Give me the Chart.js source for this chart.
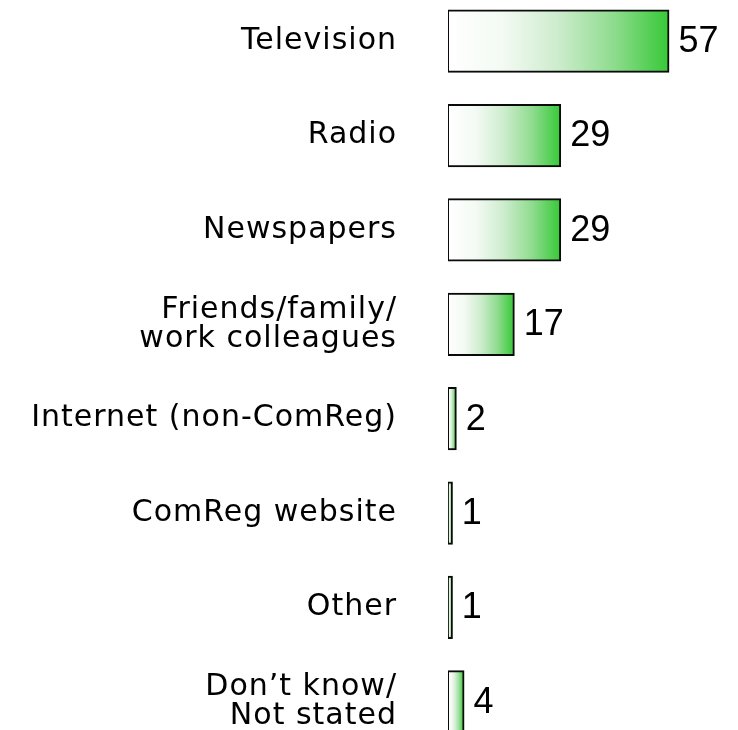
<!DOCTYPE html>
<html>
<head>
<meta charset="utf-8">
<title>Sources of information</title>
<script src="https://cdn.jsdelivr.net/npm/chart.js@4/dist/chart.umd.min.js"></script>
<style>
  html, body { margin: 0; padding: 0; background: #fff; overflow: hidden; }
  #wrap { position: absolute; left: 0; top: -6px; width: 738px; height: 755px; }
</style>
</head>
<body>
<div id="wrap"><canvas id="sourcesChart"></canvas></div>
<script>
// categorias e valores (%)
const categories = [
    'Television',
    'Radio',
    'Newspapers',
    ['Friends/family/', 'work colleagues'],
    'Internet (non-ComReg)',
    'ComReg website',
    'Other',
    ['Don\u2019t know/', 'Not stated']
];
const values = [57, 29, 29, 17, 2, 1, 1, 4];

// gradiente horizontal de branco para verde em cada barra
function barGradient(context) {
    const chart = context.chart;
    const xScale = chart.scales.x;
    if (!xScale || context.raw === undefined) return '#3ccc3c';
    const x0 = xScale.getPixelForValue(0);
    const x1 = xScale.getPixelForValue(context.raw);
    if (!isFinite(x0) || !isFinite(x1) || x1 - x0 < 1) return '#3ccc3c';
    const g = chart.ctx.createLinearGradient(x0, 0, x1, 0);
    g.addColorStop(0, '#ffffff');
    g.addColorStop(0.25, '#f3faf3');
    g.addColorStop(0.5, '#cdeccd');
    g.addColorStop(0.75, '#8fdc8f');
    g.addColorStop(1, '#38c938');
    return g;
}

// rótulos um pouco mais espaçados
const labelSpacing = {
    id: 'labelSpacing',
    beforeDraw(chart) { chart.ctx.letterSpacing = '1px'; },
    beforeDatasetsDraw(chart) { chart.ctx.letterSpacing = '0px'; }
};

// escreve o valor à direita de cada barra
const valueLabels = {
    id: 'valueLabels',
    afterDatasetsDraw(chart) {
        const ctx = chart.ctx;
        const meta = chart.getDatasetMeta(0);
        ctx.save();
        ctx.letterSpacing = '0px';
        ctx.font = '36px "Liberation Sans", Arial, sans-serif';
        ctx.fillStyle = '#000';
        ctx.textAlign = 'left';
        ctx.textBaseline = 'middle';
        meta.data.forEach(function(bar, i) {
            ctx.fillText(String(values[i]), bar.x + 10, bar.y + 1);
        });
        ctx.restore();
    }
};

new Chart(document.getElementById('sourcesChart'), {
    type: 'bar',
    data: {
        labels: categories,
        datasets: [{
            data: values,
            backgroundColor: barGradient,
            borderColor: '#0a0a0a',
            borderWidth: 2,
            inflateAmount: 1,
            borderSkipped: false,
            categoryPercentage: 1,
            barPercentage: 0.65
        }]
    },
    options: {
        indexAxis: 'y',
        responsive: true,
        maintainAspectRatio: false,
        animation: false,
        layout: { padding: 0 },
        plugins: {
            legend: { display: false },
            tooltip: { enabled: false }
        },
        scales: {
            x: {
                display: false,
                min: 0,
                max: 75
            },
            y: {
                grid: { display: false, drawTicks: false },
                border: { display: false },
                ticks: {
                    padding: 51,
                    color: '#000',
                    font: { family: '"DejaVu Sans", Verdana, sans-serif', size: 30, lineHeight: 0.96 }
                },
                afterFit(scale) {
                    scale.width = 448;
                    scale.paddingTop = 0;
                    scale.paddingBottom = 0;
                }
            }
        }
    },
    plugins: [labelSpacing, valueLabels]
});
</script>
</body>
</html>
